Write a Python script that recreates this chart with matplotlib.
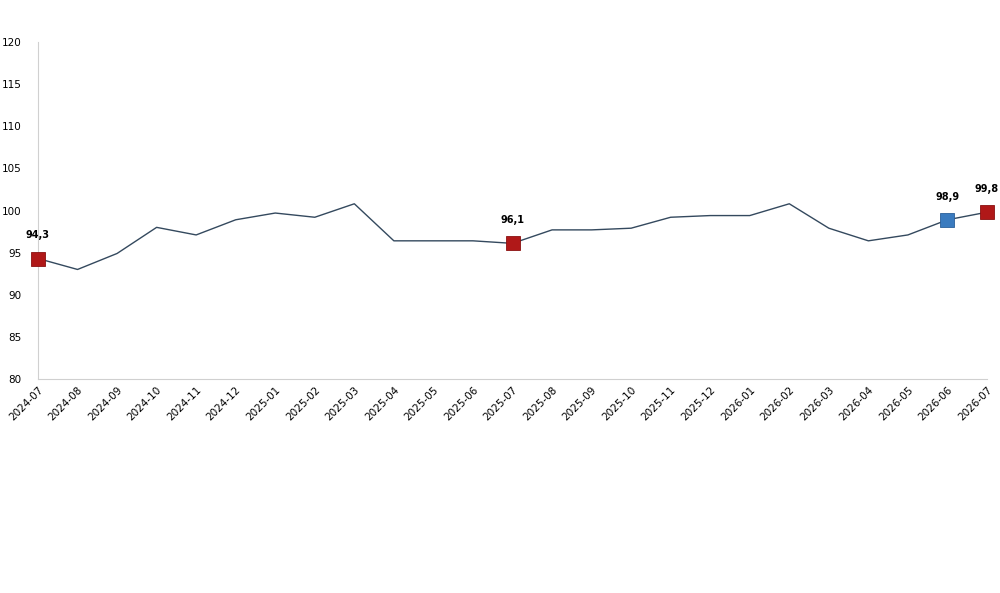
import numpy as np
import matplotlib.pyplot as plt

months = ['2024-07', '2024-08', '2024-09', '2024-10', '2024-11', '2024-12',
          '2025-01', '2025-02', '2025-03', '2025-04', '2025-05', '2025-06',
          '2025-07', '2025-08', '2025-09', '2025-10', '2025-11', '2025-12',
          '2026-01', '2026-02', '2026-03', '2026-04', '2026-05', '2026-06',
          '2026-07']
values = [94.3, 93.0, 94.9, 98.0, 97.1, 98.9, 99.7, 99.2, 100.8, 96.4, 96.4, 96.4,
          96.1, 97.7, 97.7, 97.9, 99.2, 99.4, 99.4, 100.8, 97.9, 96.4, 97.1, 98.9,
          99.8]
red_idx = [0, 12, 24]
blue_idx = [23]

x = np.arange(len(months))
fig = plt.figure(figsize=(10, 5.93), dpi=100)
ax = fig.add_axes([0.038, 0.361, 0.949, 0.568])
ax.plot(x, values, color='#34495e', lw=1.0, zorder=2)
for i in red_idx:
    ax.plot(x[i], values[i], 's', ms=9.5, color='#b01818', mec='#8a1010', mew=0.6, zorder=3)
for i in blue_idx:
    ax.plot(x[i], values[i], 's', ms=9.5, color='#3a7bbf', mec='#2a5f99', mew=0.6, zorder=3)
for i in red_idx + blue_idx:
    ax.annotate(f'{values[i]:.1f}'.replace('.', ','), (x[i], values[i]),
                xytext=(0, 13), textcoords='offset points', ha='center',
                va='bottom', fontsize=7, fontweight='bold')

ax.set_xlim(0, len(months) - 1)
ax.set_ylim(80, 120)
ax.set_yticks(np.arange(80, 121, 5))
ax.set_xticks(x)
ax.set_xticklabels(months, rotation=45, ha='right', rotation_mode='anchor', fontsize=7.5)
ax.tick_params(axis='y', labelsize=7.5, length=0, pad=12)
ax.tick_params(axis='x', length=0, pad=4)
for s in ['top', 'right']:
    ax.spines[s].set_visible(False)
for s in ['left', 'bottom']:
    ax.spines[s].set_color('#d0d0d0')
ax.patch.set_alpha(0)
for line in ax.lines:
    line.set_clip_on(False)

fig.savefig('out.png', dpi=100)
